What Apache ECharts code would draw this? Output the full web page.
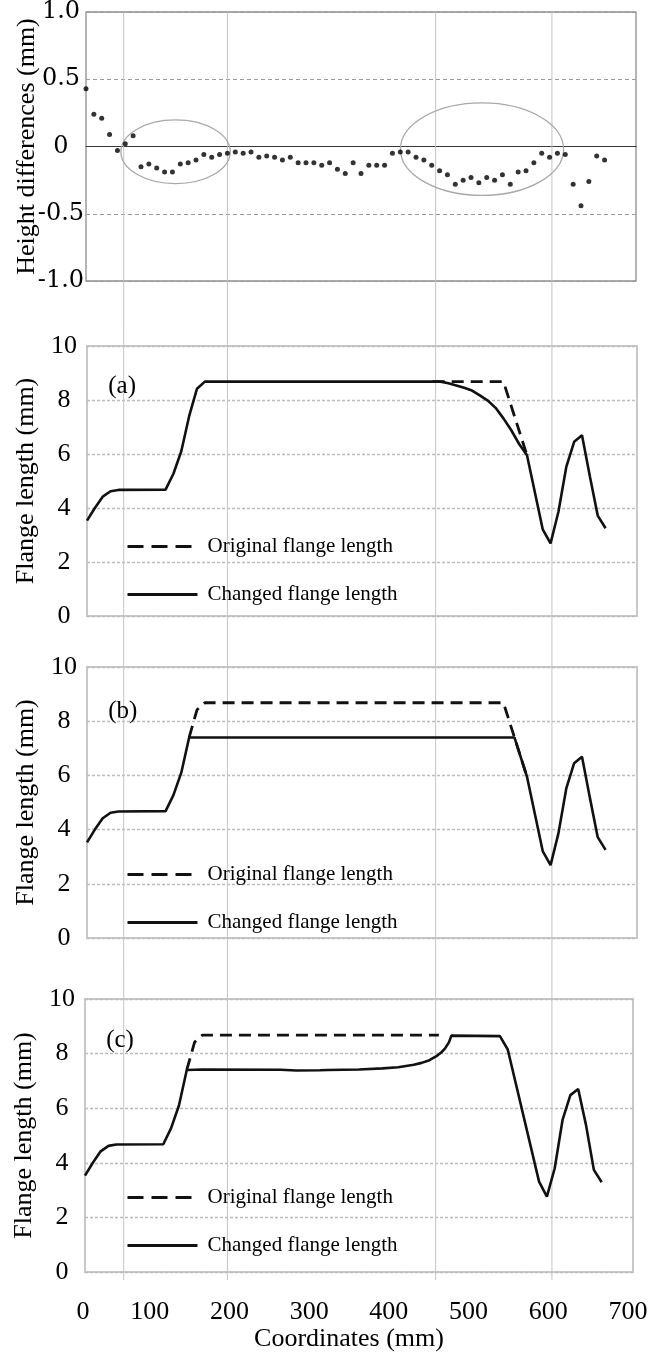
<!DOCTYPE html>
<html>
<head>
<meta charset="utf-8">
<script src="https://cdn.jsdelivr.net/npm/echarts@6/dist/echarts.min.js"></script>
<style>
  html, body { margin: 0; padding: 0; background: #ffffff; }
  #chart { width: 668px; height: 1354px; }
</style>
</head>
<body>
<div id="chart"></div>
<script>
// ---- Height differences along the flange (mm), sampled every 10 mm ----
const diffX = [0, 10, 20, 30, 40, 50, 60, 70, 80, 90, 100, 110, 120, 130, 140, 150, 160, 170, 180, 190,
  200, 210, 220, 230, 240, 250, 260, 270, 280, 290, 300, 310, 320, 330, 340, 350, 360, 370, 380, 390,
  400, 410, 420, 430, 440, 450, 460, 470, 480, 490, 500, 510, 520, 530, 540, 550, 560, 570, 580, 590,
  600, 610, 620, 630, 640, 650, 660];
const diffY = [0.43, 0.24, 0.21, 0.09, -0.03, 0.02, 0.08, -0.15, -0.13, -0.16, -0.19, -0.19, -0.13, -0.12, -0.10, -0.06, -0.08, -0.06, -0.05, -0.04,
  -0.05, -0.04, -0.08, -0.07, -0.08, -0.10, -0.08, -0.12, -0.12, -0.12, -0.14, -0.12, -0.17, -0.20, -0.12, -0.20, -0.14, -0.14, -0.14, -0.05,
  -0.04, -0.04, -0.08, -0.10, -0.14, -0.18, -0.21, -0.28, -0.25, -0.23, -0.27, -0.23, -0.25, -0.21, -0.28, -0.19, -0.18, -0.12, -0.05, -0.08,
  -0.05, -0.06, -0.28, -0.44, -0.26, -0.07, -0.10];

// ---- Flange length profile pieces shared by the panels (mm) ----
const leftX = [0, 10, 20, 30, 40, 100, 110, 120, 130];
const leftY = [3.53, 4.0, 4.42, 4.62, 4.67, 4.68, 5.27, 6.1, 7.4];
const riseX = [140, 150];
const riseY = [8.42, 8.68];
const tailX = [580, 590, 600, 610, 620, 630, 640, 650, 660];
const tailY = [3.21, 2.69, 3.86, 5.52, 6.45, 6.69, 5.18, 3.72, 3.25];

// (a) rounded corner near the right end
const aOrigX = [440, 530, 560];
const aOrigY = [8.68, 8.68, 5.95];
const aChgX = [450, 460, 470, 480, 490, 500, 510, 520, 530, 540, 550, 560];
const aChgY = [8.68, 8.62, 8.54, 8.45, 8.35, 8.17, 7.98, 7.71, 7.32, 6.88, 6.37, 5.95];

// (b) flange trimmed to a constant length
const bOrigX = [130, 140, 150, 530, 560];
const bOrigY = [7.4, 8.42, 8.68, 8.68, 5.95];
const bChgX = [544, 560];
const bChgY = [7.4, 5.95];

// (c) trimmed section blending back into the original length, own right end
const cOrigX = [130, 140, 150, 452];
const cOrigY = [7.4, 8.42, 8.68, 8.68];
const cChgX = [150, 250, 270, 300, 310, 350, 380, 400, 420, 430, 440, 450, 455, 460, 465, 468,
  530, 540, 580, 590, 600, 610, 620, 630, 640, 650, 660];
const cChgY = [7.42, 7.41, 7.38, 7.39, 7.4, 7.42, 7.46, 7.5, 7.59, 7.66, 7.76, 7.93, 8.04, 8.19, 8.42, 8.66,
  8.64, 8.15, 3.31, 2.76, 3.8, 5.57, 6.48, 6.7, 5.38, 3.74, 3.29];

// Axis ticks
const coordTicks = [0, 100, 200, 300, 400, 500, 600, 700];
const diffTicks = [-1.0, -0.5, 0, 0.5, 1.0];
const lengthTicks = [0, 2, 4, 6, 8, 10];

// Annotations
const guideX = [48, 180, 445, 593];
const ringCenterX = [114, 504];
const ringCenterY = [-0.039, -0.02];
const ringRadiusX = [69.6, 103.8];
const ringRadiusY = [0.237, 0.344];
const panelTags = ['(a)', '(b)', '(c)'];
const tagX = [27, 27, 27];
const tagY = [8.5, 8.35, 8.5];

const SERIF = '"Liberation Serif", "Times New Roman", serif';
const WIDE_SERIF = '"DejaVu Serif", "Liberation Serif", serif';
const LINE = '#111111';

const zip = (xs, ys) => xs.map((x, i) => [x, ys[i]]);
const concat = (...parts) => [].concat(...parts);

const chgA = concat(zip(leftX, leftY), zip(riseX, riseY), zip(aChgX, aChgY), zip(tailX, tailY));
const chgB = concat(zip(leftX, leftY), zip(bChgX, bChgY), zip(tailX, tailY));
const chgC = concat(zip(leftX, leftY), zip(cChgX, cChgY));
const origSets = [zip(aOrigX, aOrigY), zip(bOrigX, bOrigY), zip(cOrigX, cOrigY)];
const chgSets = [chgA, chgB, chgC];

const panelGrids = [
  { left: 87, right: 31, top: 346, height: 270 },
  { left: 87, right: 31, top: 667, height: 271 },
  { left: 85, right: 35, top: 999, height: 273 }
];
const legendTops = [536, 864, 1187];

const grids = [
  { left: 86, right: 32, top: 11, height: 270, show: true, borderColor: '#8e8e8e', borderWidth: 1.3 }
].concat(panelGrids.map(g => Object.assign({ show: true, borderColor: '#c8c8c8', borderWidth: 2 }, g)))
 .concat([{ left: 70, right: 40, top: 999, height: 273, show: false }]);

const hiddenX = (i, lineShow) => ({
  type: 'value', gridIndex: i, min: 0, max: 700,
  axisLabel: { show: false }, axisTick: { show: false }, splitLine: { show: false },
  axisLine: { show: lineShow, onZero: true, lineStyle: { color: '#3a3a3a', width: 1.2 } }
});

const xAxes = [hiddenX(0, true), hiddenX(1, false), hiddenX(2, false), hiddenX(3, false), {
  type: 'value', gridIndex: 4, min: coordTicks[0], max: coordTicks[coordTicks.length - 1],
  interval: coordTicks[1] - coordTicks[0],
  axisLine: { show: false }, axisTick: { show: false }, splitLine: { show: false },
  axisLabel: {
    fontSize: 26, fontFamily: SERIF, color: '#000', margin: 27,
    formatter: v => (v === 0 ? '{z|0}' : String(v)),
    rich: { z: { fontSize: 26, fontFamily: SERIF, color: '#000', padding: [0, 0, 0, 26] } }
  },
  name: 'Coordinates (mm)', nameLocation: 'middle', nameGap: 54, nameMoveOverlap: false,
  nameTextStyle: { fontSize: 26, fontFamily: SERIF, color: '#000' }
}];

const yAxes = [{
  type: 'value', gridIndex: 0, min: diffTicks[0], max: diffTicks[diffTicks.length - 1], interval: 0.5,
  axisLine: { show: false }, axisTick: { show: false },
  axisLabel: {
    fontSize: 24, fontFamily: WIDE_SERIF, color: '#000', align: 'center', margin: 25,
    formatter: v => (v === 0 ? '0' : v.toFixed(1))
  },
  splitLine: { show: true, lineStyle: { color: '#9a9a9a', type: [4, 3], width: 1 } },
  name: 'Height differences (mm)', nameLocation: 'middle', nameGap: 46, nameMoveOverlap: false,
  nameTextStyle: { fontSize: 26, fontFamily: SERIF, color: '#000' }
}].concat([1, 2, 3].map(i => ({
  type: 'value', gridIndex: i, min: lengthTicks[0], max: lengthTicks[lengthTicks.length - 1],
  interval: lengthTicks[1] - lengthTicks[0],
  axisLine: { show: false }, axisTick: { show: false },
  axisLabel: { fontSize: 26, fontFamily: SERIF, color: '#000', align: 'center', margin: 23 },
  splitLine: { show: true, lineStyle: { color: '#bcbcbc', type: [3, 2], width: 1.4 } },
  name: 'Flange length (mm)', nameLocation: 'middle', nameGap: 48, nameMoveOverlap: false,
  nameTextStyle: { fontSize: 26, fontFamily: SERIF, color: '#000' }
}))).concat([{ type: 'value', gridIndex: 4, min: 0, max: 1, show: false }]);

const series = [{
  type: 'scatter', xAxisIndex: 0, yAxisIndex: 0, symbolSize: 5,
  itemStyle: { color: '#000' }, data: zip(diffX, diffY), silent: true
}];
for (let k = 0; k < 3; k++) {
  series.push({
    name: 'Original flange length', type: 'line', xAxisIndex: k + 1, yAxisIndex: k + 1,
    symbol: 'none', data: origSets[k],
    lineStyle: { color: LINE, width: 2.8, type: [12, 7] }
  });
  series.push({
    name: 'Changed flange length', type: 'line', xAxisIndex: k + 1, yAxisIndex: k + 1,
    symbol: 'none', data: chgSets[k],
    lineStyle: { color: LINE, width: 2.6 }
  });
}

const legends = legendTops.map(t => ({
  left: 126, top: t, orient: 'vertical', padding: 0,
  itemWidth: 70, itemHeight: 16, itemGap: 27, selectedMode: false,
  itemStyle: { opacity: 0 },
  textStyle: { fontSize: 21, fontFamily: SERIF, color: '#000', padding: [0, 0, 0, 5] },
  data: [
    { name: 'Original flange length', lineStyle: { type: [16, 8], width: 3 } },
    { name: 'Changed flange length', lineStyle: { width: 3 } }
  ]
}));

const chart = echarts.init(document.getElementById('chart'), null, { renderer: 'canvas' });
chart.setOption({
  animation: false,
  backgroundColor: '#ffffff',
  grid: grids,
  xAxis: xAxes,
  yAxis: yAxes,
  legend: legends,
  series: series
});

// Guide lines, highlight rings and panel tags placed through the axes
const px = (g, x, y) => chart.convertToPixel({ gridIndex: g }, [x, y]);
const topY = px(0, 0, 1.0)[1];
const bottomY = px(3, 0, 0)[1] + 8;
const graphics = [];
guideX.forEach(v => {
  const x = px(0, v, 0)[0];
  graphics.push({
    type: 'line', z: 1, silent: true,
    shape: { x1: x, y1: topY, x2: x, y2: bottomY },
    style: { stroke: '#c4c4c4', lineWidth: 1 }
  });
});
ringCenterX.forEach((cx, i) => {
  const c = px(0, cx, ringCenterY[i]);
  const e = px(0, cx + ringRadiusX[i], ringCenterY[i] + ringRadiusY[i]);
  graphics.push({
    type: 'ellipse', z: 1, silent: true,
    shape: { cx: c[0], cy: c[1], rx: Math.abs(e[0] - c[0]), ry: Math.abs(c[1] - e[1]) },
    style: { fill: 'none', stroke: '#a8a8a8', lineWidth: 1.3 }
  });
});
panelTags.forEach((t, i) => {
  const p = px(i + 1, tagX[i], tagY[i]);
  graphics.push({
    type: 'text', z: 5, silent: true,
    style: { text: t, x: p[0], y: p[1], fontSize: 25, fontFamily: SERIF, fill: '#000', verticalAlign: 'middle' }
  });
});
chart.setOption({ graphic: graphics });
</script>
</body>
</html>
